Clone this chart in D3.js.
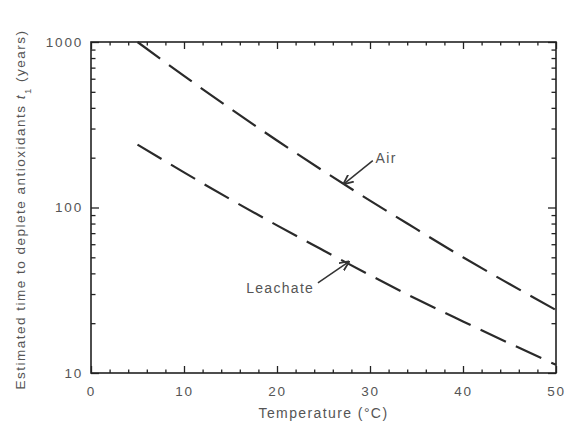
<!DOCTYPE html>
<html>
<head>
<meta charset="utf-8">
<script src="https://cdn.jsdelivr.net/npm/d3@7/dist/d3.min.js"></script>
<style>
  html, body { margin: 0; padding: 0; background: #fff; }
  svg { display: block; }
  text { font-family: "Liberation Sans", Arial, sans-serif; fill: #555; }
</style>
</head>
<body>
<svg id="chart" width="568" height="430"></svg>
<script>
// Temperature (°C) at which each lifetime was estimated
const temperatures = [5, 10, 15, 20, 25, 30, 35, 40, 45, 50];
// Estimated time to deplete antioxidants (years)
const airYears      = [1000, 624, 395, 254, 166, 110, 74, 50, 34.5, 24];
const leachateYears = [240, 163, 112, 78, 55, 39, 28, 20.5, 15.1, 11.2];

const xTickValues = [0, 10, 20, 30, 40, 50];
const yTickValues = [10, 100, 1000];

// Callout labels with arrow tail and tip, in data units
const callouts = [
  { label: "Air",      textAt: [30.6, 186], anchor: "start", tail: [30.3, 192], tip: [27.2, 139] },
  { label: "Leachate", textAt: [24.0, 30.4], anchor: "end",  tail: [24.4, 35],  tip: [27.7, 47] }
];

const W = 568, H = 430;
const m = { left: 91, right: 12, top: 42, bottom: 57 };
const iw = W - m.left - m.right, ih = H - m.top - m.bottom;

const svg = d3.select("#chart");
const g = svg.append("g").attr("transform", `translate(${m.left},${m.top})`);

const x = d3.scaleLinear().domain([0, 50]).range([0, iw]);
const y = d3.scaleLog().domain([10, 1000]).range([ih, 0]);

const axisColor = "#222";

// Minor ticks
const xMinor = d3.range(0, 51, 2).filter(v => v % 10 !== 0);
const yMinor = [];
[10, 100].forEach(d => { for (let k = 2; k <= 9; k++) yMinor.push(d * k); });

function styleAxis(sel) {
  sel.select(".domain").remove();
  sel.selectAll(".tick line").attr("stroke", axisColor).attr("stroke-width", 1.3);
  sel.selectAll(".tick text")
    .style("font-size", "13.5px")
    .style("letter-spacing", "1.8px")
    .attr("fill", "#555");
}

// Bottom axis (labels) with inward ticks
g.append("g").attr("transform", `translate(0,${ih})`)
  .call(d3.axisBottom(x).tickValues(xTickValues).tickSize(-7).tickPadding(13).tickFormat(d3.format("d")))
  .call(styleAxis);
g.append("g").attr("transform", `translate(0,${ih})`)
  .call(d3.axisBottom(x).tickValues(xMinor).tickSize(-3.5).tickFormat(""))
  .call(styleAxis);
// Top axis ticks
g.append("g")
  .call(d3.axisTop(x).tickValues(xTickValues).tickSize(-7).tickFormat(""))
  .call(styleAxis);
g.append("g")
  .call(d3.axisTop(x).tickValues(xMinor).tickSize(-3.5).tickFormat(""))
  .call(styleAxis);

// Left axis (labels)
g.append("g")
  .call(d3.axisLeft(y).tickValues(yTickValues).tickSize(-8).tickPadding(8).tickFormat(d3.format("d")))
  .call(styleAxis);
g.append("g")
  .call(d3.axisLeft(y).tickValues(yMinor).tickSize(-4.5).tickFormat(""))
  .call(styleAxis);
// Right axis ticks
g.append("g").attr("transform", `translate(${iw},0)`)
  .call(d3.axisRight(y).tickValues(yTickValues).tickSize(-8).tickFormat(""))
  .call(styleAxis);
g.append("g").attr("transform", `translate(${iw},0)`)
  .call(d3.axisRight(y).tickValues(yMinor).tickSize(-4.5).tickFormat(""))
  .call(styleAxis);

// Frame
g.append("rect").attr("width", iw).attr("height", ih)
  .attr("fill", "none").attr("stroke", axisColor).attr("stroke-width", 1.6);

// Dashed curves
const line = d3.line().x(d => x(d[0])).y(d => y(d[1])).curve(d3.curveMonotoneX);
[airYears, leachateYears].forEach(vals => {
  g.append("path")
    .datum(temperatures.map((t, i) => [t, vals[i]]))
    .attr("d", line)
    .attr("fill", "none")
    .attr("stroke", "#2a2a2a")
    .attr("stroke-width", 2.2)
    .attr("stroke-dasharray", "28,11");
});

// Arrowhead
svg.append("defs").append("marker")
  .attr("id", "arrow").attr("viewBox", "0 0 10 10")
  .attr("refX", 9).attr("refY", 5)
  .attr("markerWidth", 10).attr("markerHeight", 10)
  .attr("markerUnits", "userSpaceOnUse")
  .attr("orient", "auto")
  .append("path").attr("d", "M0,0.5 L10,5 L0,9.5")
  .attr("fill", "none").attr("stroke", "#333").attr("stroke-width", 1.8);

callouts.forEach(c => {
  g.append("line")
    .attr("x1", x(c.tail[0])).attr("y1", y(c.tail[1]))
    .attr("x2", x(c.tip[0])).attr("y2", y(c.tip[1]))
    .attr("stroke", "#333").attr("stroke-width", 1.5)
    .attr("marker-end", "url(#arrow)");
  g.append("text")
    .attr("x", x(c.textAt[0])).attr("y", y(c.textAt[1]))
    .attr("text-anchor", c.anchor)
    .style("font-size", "14px").style("letter-spacing", "1.3px")
    .text(c.label);
});

// Axis titles
svg.append("text")
  .attr("x", m.left + iw / 2).attr("y", 418)
  .attr("text-anchor", "middle")
  .style("font-size", "14px").style("letter-spacing", "1.4px")
  .text("Temperature (°C)");

const yt = svg.append("text")
  .attr("transform", `translate(25,${m.top + ih / 2 + 2}) rotate(-90)`)
  .attr("text-anchor", "middle")
  .style("font-size", "13.5px").style("letter-spacing", "1.5px");
yt.append("tspan").text("Estimated time to deplete antioxidants ");
yt.append("tspan").style("font-style", "italic").text("t");
yt.append("tspan").attr("baseline-shift", "sub").style("font-size", "9.5px").text("1");
yt.append("tspan").text(" (years)");
</script>
</body>
</html>
